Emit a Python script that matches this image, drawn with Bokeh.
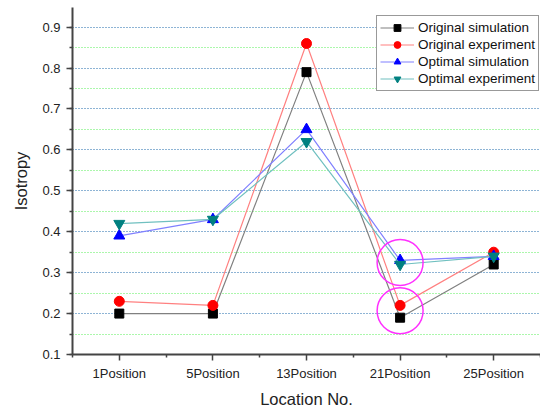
from bokeh.plotting import figure
from bokeh.models import FixedTicker, SingleIntervalTicker, Range1d, Legend, LegendItem, NumeralTickFormatter
from bokeh.embed import file_html
from bokeh.resources import INLINE

categories = ["1Position", "5Position", "13Position", "21Position", "25Position"]
orig_sim = [0.20, 0.20, 0.79, 0.19, 0.32]
orig_exp = [0.23, 0.22, 0.86, 0.22, 0.35]
opt_sim = [0.39, 0.43, 0.65, 0.33, 0.34]
opt_exp = [0.42, 0.43, 0.62, 0.32, 0.34]
highlight_x = [3, 3]
highlight_y = [0.325, 0.207]

FONT = "Liberation Sans"
x = list(range(len(categories)))

p = figure(width=540, height=410, output_backend="svg", toolbar_location=None,
           x_range=Range1d(-0.5, 4.5), y_range=Range1d(0.1, 0.948),
           min_border_left=72, min_border_right=0, min_border_top=7, min_border_bottom=56)
p.outline_line_color = None
p.background_fill_color = "white"
p.border_fill_color = "white"

# axes
p.xaxis.ticker = FixedTicker(ticks=x, minor_ticks=[i - 0.5 for i in range(len(categories) + 1)])
p.xaxis.major_label_overrides = {i: c for i, c in enumerate(categories)}
p.yaxis.ticker = SingleIntervalTicker(interval=0.1, num_minor_ticks=2)
p.yaxis.formatter = NumeralTickFormatter(format="0.0")
p.xaxis.axis_label = "Location No."
p.yaxis.axis_label = "Isotropy"
for ax in (p.xaxis, p.yaxis):
    ax.axis_line_color = "#444444"
    ax.axis_line_width = 2
    ax.major_tick_line_color = "#444444"
    ax.minor_tick_line_color = "#444444"
    ax.major_tick_line_width = 1.5
    ax.minor_tick_line_width = 1.5
    ax.major_tick_out = 6
    ax.major_tick_in = 0
    ax.minor_tick_out = 3
    ax.minor_tick_in = 0
    ax.major_label_text_font = FONT
    ax.major_label_text_font_size = "13px"
    ax.major_label_text_color = "#222222"
    ax.axis_label_text_font = FONT
    ax.axis_label_text_font_size = "16.5px"
    ax.axis_label_text_font_style = "normal"
    ax.axis_label_text_color = "#222222"
p.yaxis.major_label_standoff = 6
p.yaxis.axis_label_standoff = 9
p.xaxis.major_label_standoff = 5
p.xaxis.axis_label_standoff = 6

# grid
p.xgrid.grid_line_color = None
p.ygrid.grid_line_color = "#7070ff"
p.ygrid.grid_line_dash = "1 2"
p.ygrid.grid_line_width = 1
p.ygrid.minor_grid_line_color = "#58ee58"
p.ygrid.minor_grid_line_dash = "1 2"
p.ygrid.minor_grid_line_width = 1

series = [
    ("Original simulation", orig_sim, "#808080", "#000000", "square", 9),
    ("Original experiment", orig_exp, "#ff8080", "#ff0000", "circle", 10),
    ("Optimal simulation", opt_sim, "#8080ff", "#0000ff", "triangle", 11),
    ("Optimal experiment", opt_exp, "#70c0c0", "#008080", "inverted_triangle", 11),
]
items = []
for label, ys, lc, mc, marker, sz in series:
    l = p.line(x, ys, line_color=lc, line_width=1.2)
    s = p.scatter(x, ys, marker=marker, size=sz, fill_color=mc, line_color=mc)
    items.append(LegendItem(label=label, renderers=[l, s]))

p.scatter(highlight_x, highlight_y, marker="circle", size=46, fill_color=None,
          line_color="#ff30ff", line_width=1.5)

legend = Legend(items=items, location=(304, 263))
legend.label_text_font = FONT
legend.label_text_font_size = "13.5px"
legend.label_text_color = "#111111"
legend.border_line_color = "#333333"
legend.border_line_width = 1
legend.background_fill_color = "white"
legend.background_fill_alpha = 1
legend.glyph_width = 34
legend.glyph_height = 17
legend.label_height = 17
legend.spacing = 0
legend.padding = 3
legend.margin = 0
legend.label_standoff = 4
p.add_layout(legend, "center")

open("out.html", "w").write(file_html(p, INLINE))
